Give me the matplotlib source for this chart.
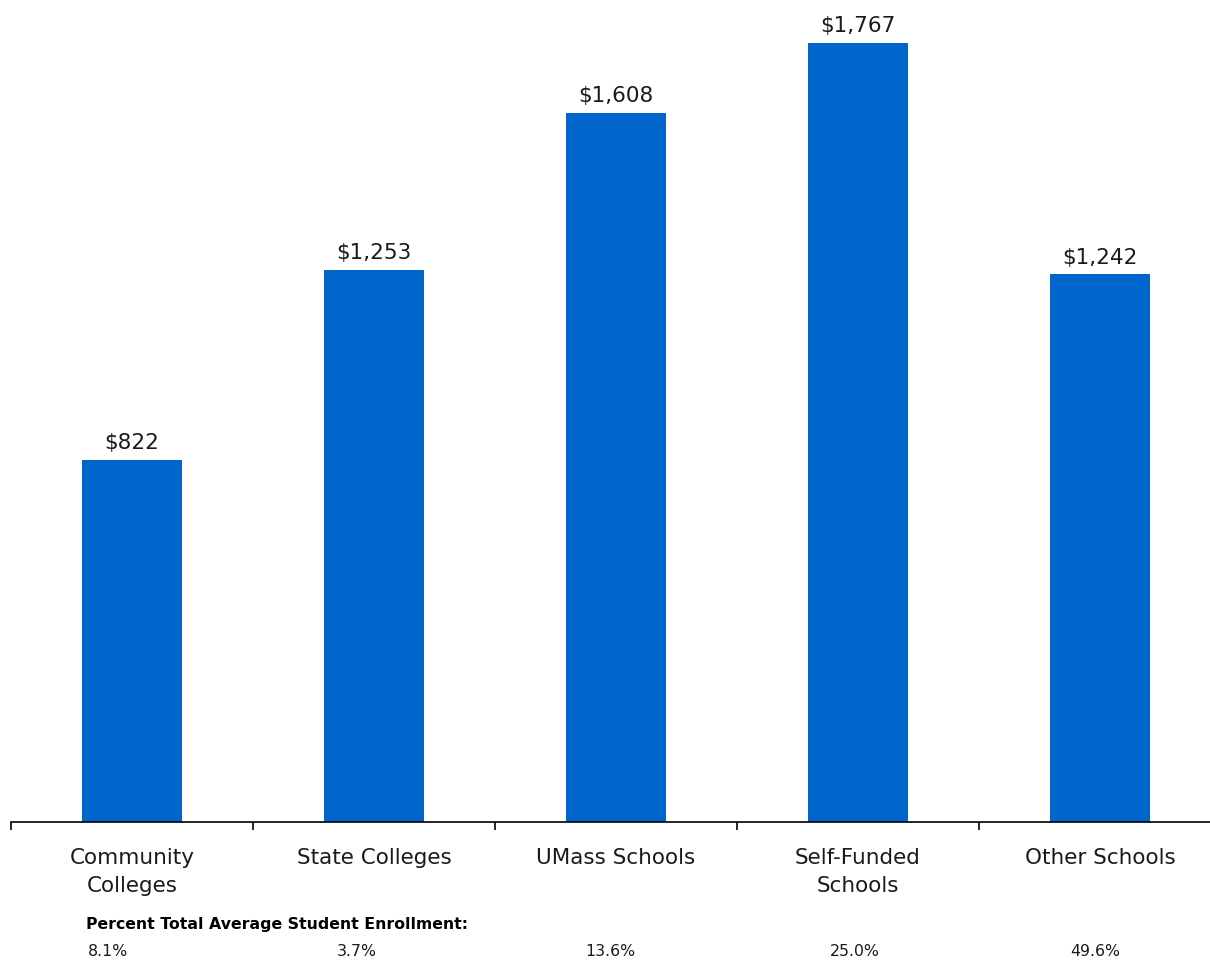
import matplotlib
matplotlib.use("Agg")
import matplotlib.pyplot as plt
from matplotlib.ticker import FixedLocator

categories = ["Community\nColleges", "State Colleges", "UMass Schools", "Self-Funded\nSchools", "Other Schools"]
values = [822, 1253, 1608, 1767, 1242]
value_labels = ["$822", "$1,253", "$1,608", "$1,767", "$1,242"]
percent_labels = ["8.1%", "3.7%", "13.6%", "25.0%", "49.6%"]
percent_header = "Percent Total Average Student Enrollment:"

plt.rcParams['font.family'] = ['DejaVu Sans']
W, H = 1210, 961
fig = plt.figure(figsize=(W / 100, H / 100), dpi=100)
ax = fig.add_axes([11 / W, (H - 822) / H, 1210 / W, 822 / H])

bar_color = "#0066CC"
text_color = "#1a1a1a"
x = list(range(len(values)))
bars = ax.bar(x, values, width=0.41, color=bar_color, zorder=2)

for xi, v, lab in zip(x, values, value_labels):
    ax.annotate(lab, (xi, v), xytext=(0, 5.0), textcoords="offset points",
                ha="center", va="bottom", fontsize=15.5, color=text_color)

ax.set_xlim(-0.5, len(values) - 0.5)
ax.set_ylim(0, 1864.6)

for s in ["top", "right", "left"]:
    ax.spines[s].set_visible(False)
ax.spines["bottom"].set_linewidth(1.2)
ax.spines["bottom"].set_color("black")
ax.set_yticks([])

ax.xaxis.set_major_locator(FixedLocator([i - 0.5 for i in range(len(values) + 1)]))
ax.xaxis.set_major_formatter(plt.NullFormatter())
ax.xaxis.set_minor_locator(FixedLocator(x))
ax.set_xticklabels(categories, minor=True, fontsize=15.5, color=text_color, linespacing=1.55)
ax.tick_params(axis="x", which="major", direction="out", length=6, width=1.2, color="black")
ax.tick_params(axis="x", which="minor", length=0, pad=18.5)

# enrollment annotation row
fig.text(86 / W, 1 - 924 / H, percent_header, fontsize=11.3, fontweight="bold",
         ha="left", va="center", color="black")
pct_offsets = [-0.10, -0.07, -0.025, -0.012, -0.02]
trans = ax.get_xaxis_transform()
for xi, off, p in zip(x, pct_offsets, percent_labels):
    ax.text(xi + off, -(952 - 822) / 822, p, transform=trans, fontsize=11.3,
            ha="center", va="center", color=text_color, clip_on=False)

fig.savefig("out.png", dpi=100)
